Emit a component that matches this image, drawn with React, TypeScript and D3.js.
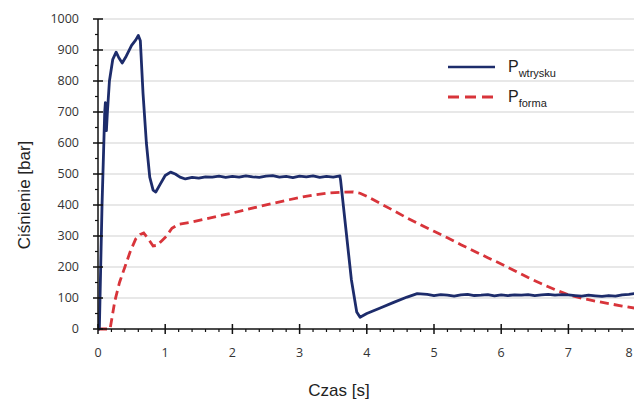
import React from "react";
import * as d3 from "d3";

// Pwtrysku (injection pressure)
const timeWtrysku = [
  0, 0.02, 0.06, 0.1, 0.11, 0.125, 0.14, 0.17, 0.22, 0.27, 0.31, 0.36, 0.42, 0.5, 0.56, 0.6,
  0.63, 0.67, 0.72, 0.77, 0.82, 0.86, 0.92, 1.0, 1.08, 1.15, 1.22, 1.3, 1.4, 1.5, 1.6, 1.7,
  1.8, 1.9, 2.0, 2.1, 2.2, 2.3, 2.4, 2.5, 2.6, 2.7, 2.8, 2.9, 3.0, 3.1, 3.2, 3.3, 3.4, 3.5,
  3.6, 3.61, 3.63, 3.7, 3.77, 3.85, 3.9, 4.0, 4.2, 4.4, 4.6, 4.75, 4.9, 5.0, 5.1, 5.2, 5.3,
  5.4, 5.5, 5.6, 5.7, 5.8, 5.9, 6.0, 6.1, 6.2, 6.3, 6.4, 6.5, 6.6, 6.7, 6.8, 6.9, 7.0, 7.1,
  7.2, 7.3, 7.4, 7.5, 7.6, 7.7, 7.8, 7.9, 8.0,
];
const pWtrysku = [
  0, 0, 400, 700, 730, 640, 700, 800, 870, 893, 875, 858, 880, 915, 932, 947,
  930, 760, 600, 490, 448, 442, 465, 495, 506, 500, 490, 484, 489, 487, 491, 490,
  493, 489, 492, 490, 494, 491, 489, 493, 495, 490, 492, 488, 493, 491, 494, 489, 492, 490,
  494, 480, 440, 300, 160, 55, 38, 50, 68, 86, 103, 114, 112, 108, 111, 109, 106,
  110, 112, 108, 109, 111, 107, 110, 108, 110, 109, 111, 108, 110, 112, 109, 111, 110, 108,
  106, 109, 107, 105, 108, 106, 110, 112, 115,
];

// Pforma (mould pressure)
const timeForma = [
  0, 0.18, 0.25, 0.32, 0.4, 0.48, 0.56, 0.63, 0.68, 0.75, 0.82, 0.88, 0.95, 1.02, 1.1, 1.2,
  1.4, 1.6, 1.8, 2.0, 2.2, 2.4, 2.6, 2.8, 3.0, 3.2, 3.4, 3.6, 3.8, 3.9, 4.0, 4.2, 4.4, 4.6,
  4.8, 5.0, 5.2, 5.4, 5.6, 5.8, 6.0, 6.2, 6.4, 6.6, 6.8, 7.0, 7.2, 7.4, 7.6, 7.8, 8.0,
];
const pForma = [
  0, 0, 90, 150, 200, 250, 290, 305, 310, 290, 268, 270, 285, 300, 325, 338,
  345, 355, 365, 374, 385, 395, 405, 415, 424, 432, 438, 441, 442, 438, 428, 405, 382, 358,
  336, 315, 294, 272, 251, 230, 210, 188, 166, 146, 127, 110, 99, 90, 82, 74, 67,
];

const xTicks = [0, 1, 2, 3, 4, 5, 6, 7, 8];
const yTicks = [0, 100, 200, 300, 400, 500, 600, 700, 800, 900, 1000];

const W = 634;
const H = 400;
const left = 98;
const top = 19;
const bottom = 329;

const App = () => {
  const x = d3.scaleLinear().domain([0, 8]).range([left, left + 8 * 67.2]);
  const y = d3.scaleLinear().domain([0, 1000]).range([bottom, top]);

  const line = d3
    .line<[number, number]>()
    .x(d => x(d[0]))
    .y(d => y(d[1]));

  const wtrysku = line(timeWtrysku.map((t, i) => [t, pWtrysku[i]]) as [number, number][]);
  const forma = line(timeForma.map((t, i) => [t, pForma[i]]) as [number, number][]);

  const xMinor = d3.range(0, 8.01, 0.2).filter(v => Math.abs(v - Math.round(v)) > 0.01);
  const yMinor = d3.range(50, 1000, 100);

  const tickFont = "'Open Sans', sans-serif";
  const titleFont = "'Liberation Sans', Arial, sans-serif";

  return (
    <svg width={W} height={H} style={{ position: "absolute", left: 0, top: 0, background: "#fff" }}>
      {/* grid */}
      {yTicks.slice(1).map(v => (
        <line key={"g" + v} x1={left} x2={W} y1={y(v)} y2={y(v)} stroke="#e0e0e0" strokeWidth={1.5} />
      ))}

      {/* series */}
      <path d={forma ?? ""} fill="none" stroke="#d8343a" strokeWidth={2.8} strokeDasharray="9,5" />
      <path d={wtrysku ?? ""} fill="none" stroke="#1d2c6b" strokeWidth={2.8} strokeLinejoin="round" />

      {/* y axis */}
      <line x1={left} x2={left} y1={y(0)} y2={y(1000)} stroke="#111" strokeWidth={1.5} />
      {yTicks.map(v => (
        <line key={"yt" + v} x1={left - 5} x2={left + 5} y1={y(v)} y2={y(v)} stroke="#111" strokeWidth={1.5} />
      ))}
      {yMinor.map(v => (
        <line key={"ym" + v} x1={left - 3} x2={left} y1={y(v)} y2={y(v)} stroke="#111" strokeWidth={1.2} />
      ))}
      {yTicks.map(v => (
        <text
          key={"yl" + v}
          x={left - 19}
          y={y(v)}
          dy="0.35em"
          textAnchor="end"
          fontFamily={tickFont}
          fontSize={12.5}
          fill="#333"
        >
          {v}
        </text>
      ))}

      {/* x axis */}
      <line x1={left} x2={W} y1={y(0)} y2={y(0)} stroke="#111" strokeWidth={1.5} />
      {xTicks.map(v => (
        <line key={"xt" + v} x1={x(v)} x2={x(v)} y1={y(0) - 5} y2={y(0) + 5} stroke="#111" strokeWidth={1.5} />
      ))}
      {xMinor.map(v => (
        <line key={"xm" + v} x1={x(v)} x2={x(v)} y1={y(0)} y2={y(0) + 3} stroke="#111" strokeWidth={1.2} />
      ))}
      {xTicks.map(v => (
        <text
          key={"xl" + v}
          x={Math.min(x(v), W - 5)}
          y={357}
          textAnchor="middle"
          fontFamily={tickFont}
          fontSize={12.5}
          fill="#333"
        >
          {v}
        </text>
      ))}

      {/* axis titles */}
      <text x={339} y={396} textAnchor="middle" fontFamily={titleFont} fontSize={17} fill="#222">
        Czas [s]
      </text>
      <text
        transform={`translate(30,195) rotate(-90)`}
        textAnchor="middle"
        fontFamily={titleFont}
        fontSize={17}
        fill="#222"
      >
        Ciśnienie [bar]
      </text>

      {/* legend */}
      <line x1={448} x2={495} y1={67} y2={67} stroke="#1d2c6b" strokeWidth={2.5} />
      <text x={508} y={72} fontFamily={titleFont} fontSize={16} fill="#222">
        P<tspan dy={5} fontSize={11}>wtrysku</tspan>
      </text>
      <line x1={448} x2={495} y1={97} y2={97} stroke="#d8343a" strokeWidth={2.8} strokeDasharray="11,6" />
      <text x={508} y={102} fontFamily={titleFont} fontSize={16} fill="#222">
        P<tspan dy={5} fontSize={11}>forma</tspan>
      </text>
    </svg>
  );
};

export default App;
